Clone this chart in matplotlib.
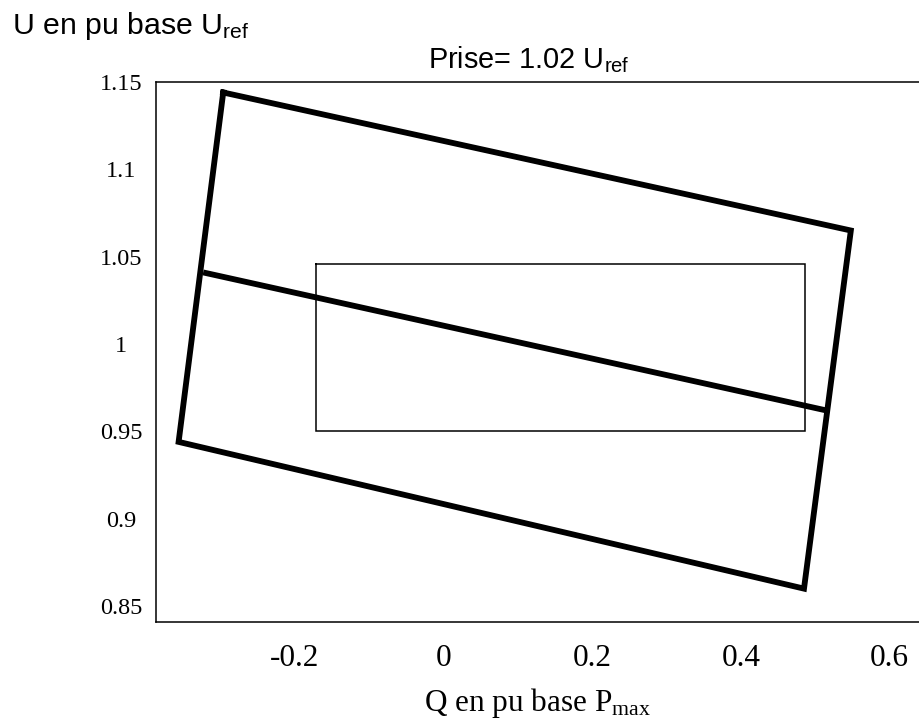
#!/usr/bin/env python3

import matplotlib
matplotlib.use("Agg")
import matplotlib.pyplot as plt
import numpy as np

# Outer operating envelope (closed quadrilateral), Q in pu base Pmax, U in pu base Uref
outer_q = [-0.296, 0.548, 0.485, -0.356, -0.296]
outer_u = [1.144, 1.065, 0.860, 0.944, 1.144]

# Middle line for tap = 1.02 Uref
mid_q = [-0.323, 0.515]
mid_u = [1.041, 0.962]

# Inner reference rectangle
inner_q = [-0.171, 0.486, 0.486, -0.171, -0.171]
inner_u = [1.046, 1.046, 0.950, 0.950, 1.046]

x_ticks = [-0.2, 0, 0.2, 0.4, 0.6]
x_labels = ['-0.2', '0', '0.2', '0.4', '0.6']
y_ticks = [1.15, 1.1, 1.05, 1.0, 0.95, 0.9, 0.85]
y_labels = ['1.15', '1.1', '1.05', '1', '0.95', '0.9', '0.85']

plt.rcParams['mathtext.default'] = 'regular'

fig = plt.figure(figsize=(9.2, 7.28), dpi=100)
ax = fig.add_axes([156 / 920, 106 / 728, 1 - 156 / 920, 540 / 728])

ax.plot(outer_q, outer_u, color='black', lw=4.2, solid_joinstyle='miter')
ax.plot(mid_q, mid_u, color='black', lw=4.2, solid_capstyle='butt')
ax.plot(inner_q, inner_u, color='black', lw=1.1, solid_joinstyle='miter')

ax.set_xlim(-0.3864, 0.641)
ax.set_ylim(0.8409, 1.15)

ax.spines['right'].set_visible(False)
for side in ['left', 'top', 'bottom']:
    ax.spines[side].set_linewidth(1.1)

ax.set_xticks(x_ticks)
ax.set_xticklabels(x_labels, family='Liberation Serif', fontsize=22.5)
ax.set_yticks(y_ticks)
ax.set_yticklabels(y_labels, family='Liberation Serif', fontsize=17.5, ha='center')
ax.tick_params(axis='x', length=0, pad=16)
ax.tick_params(axis='y', length=0, pad=25)

ax.set_xlabel(r'Q en pu base P$_{max}$', family='Liberation Serif', fontsize=22.5, labelpad=9)
ax.set_title(r'Prise= 1.02 U$_{ref}$', family='Liberation Sans', fontsize=20.8, x=0.488, pad=10)
fig.text(12 / 920, 1 - 34 / 728, r'U en pu base U$_{ref}$', family='Liberation Sans',
         fontsize=21.8, ha='left', va='baseline')

fig.savefig('out.png', dpi=100)
